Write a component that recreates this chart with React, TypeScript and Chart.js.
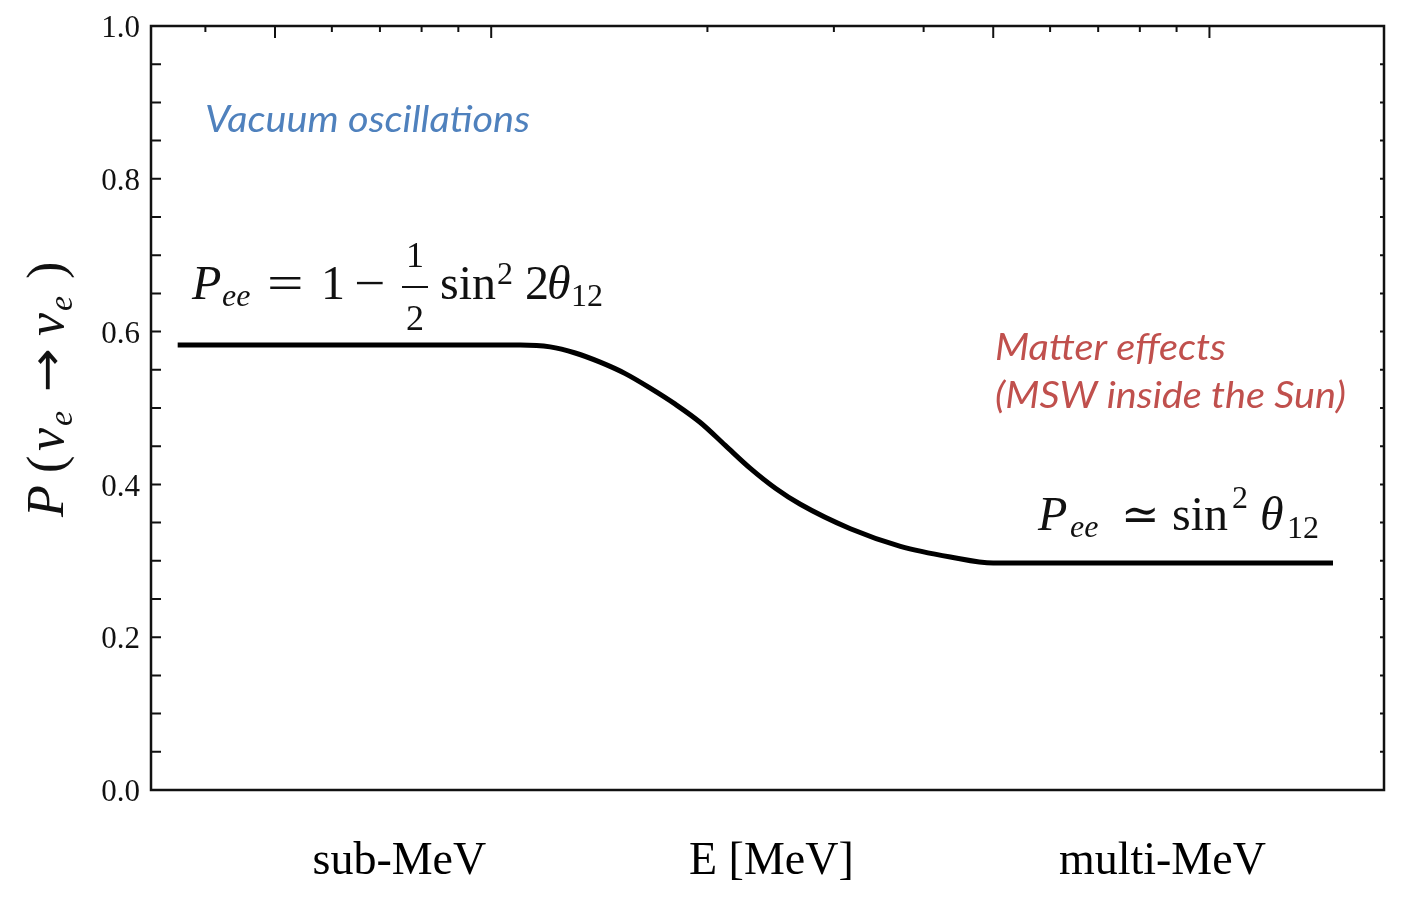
import React, { useEffect, useRef } from "react";
import { Chart, registerables } from "chart.js";
Chart.register(...registerables);

// ---- data (energy in MeV, log axis) ----
const ENERGY_MEV = [0.366, 1.098, 1.208, 1.309, 1.418, 1.537, 1.665, 1.804, 1.955, 2.118, 2.295, 2.487, 2.694, 3.163, 3.713, 4.358, 5.0, 14.86];
const P_EE = [0.5825, 0.5825, 0.58, 0.572, 0.56, 0.545, 0.526, 0.505, 0.481, 0.451, 0.421, 0.395, 0.374, 0.342, 0.319, 0.305, 0.297, 0.297];

const X_MIN = 0.336;
const X_MAX = 17.5;
const Y_MIN = 0;
const Y_MAX = 1;
const Y_LABEL_STEP = 0.2;
const Y_MINOR_STEP = 0.05;
const TOP_TICKS = [0.4, 0.5, 0.6, 0.7, 0.8, 0.9, 1, 2, 3, 4, 5, 6, 7, 8, 9, 10];
const TOP_LONG_TICKS = [0.5, 1, 5, 10];
const BOTTOM_LABELS = ["sub-MeV", "E [MeV]", "multi-MeV"];
const BOTTOM_LABEL_POS = [0.745, 2.455, 8.6];

const SERIF = '"Liberation Serif", "DejaVu Serif", serif';
const SANS = 'Lato, "Open Sans", sans-serif';
const ARROW_FONT = '"DejaVu Sans", sans-serif';

type Seg = {
  t: string;
  x: number;
  y: number;
  size: number;
  italic?: boolean;
  font?: string;
  sx?: number;
  w?: number;
  align?: CanvasTextAlign;
};

function drawSegs(ctx: CanvasRenderingContext2D, segs: Seg[], color: string) {
  for (const s of segs) {
    ctx.save();
    ctx.font = `${s.italic ? "italic " : ""}${s.size}px ${s.font || SERIF}`;
    ctx.fillStyle = color;
    ctx.textBaseline = "alphabetic";
    ctx.textAlign = s.align || "left";
    ctx.translate(s.x, s.y);
    let sx = s.sx || 1;
    if (s.w) {
      const m = ctx.measureText(s.t).width;
      if (m > 0) sx = s.w / m;
    }
    if (sx !== 1) ctx.scale(sx, 1);
    ctx.fillText(s.t, 0, 0);
    ctx.restore();
  }
}

const decorPlugin = {
  id: "decor",
  afterDraw(chart: any) {
    const ctx: CanvasRenderingContext2D = chart.ctx;
    const { left, right, top, bottom } = chart.chartArea;
    const xs = chart.scales.x;
    const ys = chart.scales.y;
    ctx.save();
    // frame
    ctx.strokeStyle = "#111";
    ctx.lineWidth = 2.5;
    ctx.strokeRect(left, top, right - left, bottom - top);
    // y ticks (inward), left long, right short
    ctx.lineWidth = 2;
    const n = Math.round((Y_MAX - Y_MIN) / Y_MINOR_STEP);
    for (let i = 1; i < n; i++) {
      const y = ys.getPixelForValue(Y_MIN + i * Y_MINOR_STEP);
      ctx.beginPath();
      ctx.moveTo(left, y);
      ctx.lineTo(left + 10, y);
      ctx.moveTo(right, y);
      ctx.lineTo(right - 4, y);
      ctx.stroke();
    }
    // top log ticks (inward)
    for (const v of TOP_TICKS) {
      const x = xs.getPixelForValue(v);
      const len = TOP_LONG_TICKS.includes(v) ? 12 : 6;
      ctx.beginPath();
      ctx.moveTo(x, top);
      ctx.lineTo(x, top + len);
      ctx.stroke();
    }
    ctx.restore();

    // annotations
    drawSegs(ctx, [{ t: "Vacuum oscillations", x: 197, y: 124, size: 36, italic: true, font: SANS, w: 325 }], "#4f81bd");
    drawSegs(
      ctx,
      [
        { t: "Matter effects", x: 987, y: 352, size: 36, italic: true, font: SANS, w: 231 },
        { t: "(MSW inside the Sun)", x: 987, y: 400, size: 36, italic: true, font: SANS, w: 351 },
      ],
      "#c0504d"
    );

    // formula 1
    drawSegs(
      ctx,
      [
        { t: "P", x: 184, y: 291, size: 48, italic: true },
        { t: "ee", x: 214, y: 298, size: 32, italic: true },
        { t: "=", x: 259, y: 291, size: 48, sx: 1.35 },
        { t: "1", x: 313, y: 291, size: 48 },
        { t: "\u2212", x: 346, y: 291, size: 48, sx: 1.15 },
        { t: "1", x: 407, y: 259, size: 36, align: "center" },
        { t: "2", x: 407, y: 322, size: 36, align: "center" },
        { t: "sin", x: 432, y: 291, size: 48 },
        { t: "2", x: 489, y: 276, size: 32 },
        { t: "2", x: 517, y: 291, size: 48 },
        { t: "\u03b8", x: 539, y: 291, size: 48, italic: true },
        { t: "12", x: 563, y: 298, size: 32 },
      ],
      "#111"
    );
    ctx.save();
    ctx.strokeStyle = "#111";
    ctx.lineWidth = 2;
    ctx.beginPath();
    ctx.moveTo(394, 279);
    ctx.lineTo(420, 279);
    ctx.stroke();
    ctx.restore();

    // formula 2
    drawSegs(
      ctx,
      [
        { t: "P", x: 1030, y: 522, size: 48, italic: true },
        { t: "ee", x: 1062, y: 529, size: 32, italic: true },
        { t: "\u2243", x: 1113, y: 522, size: 46 },
        { t: "sin", x: 1164, y: 522, size: 48 },
        { t: "2", x: 1224, y: 500, size: 32 },
        { t: "\u03b8", x: 1252, y: 522, size: 48, italic: true },
        { t: "12", x: 1279, y: 530, size: 32 },
      ],
      "#111"
    );

    // y-axis title (rotated)
    ctx.save();
    ctx.translate(55, 509);
    ctx.rotate(-Math.PI / 2);
    drawSegs(
      ctx,
      [
        { t: "P", x: 0, y: 0, size: 52, italic: true },
        { t: "(", x: 44, y: 0, size: 52 },
        { t: "\u03bd", x: 66, y: 0, size: 52, italic: true },
        { t: "e", x: 91, y: 9, size: 34, italic: true },
        { t: "\u2192", x: 125, y: -1, size: 46, font: ARROW_FONT, w: 44 },
        { t: "\u03bd", x: 181, y: 0, size: 52, italic: true },
        { t: "e", x: 206, y: 9, size: 34, italic: true },
        { t: ")", x: 238, y: 0, size: 52 },
      ],
      "#111"
    );
    ctx.restore();
  },
};

export default function App() {
  const ref = useRef<HTMLCanvasElement | null>(null);
  useEffect(() => {
    if (!ref.current) return;
    const points = ENERGY_MEV.map((e, i) => ({ x: e, y: P_EE[i] }));
    const chart = new Chart(ref.current, {
      type: "line",
      data: {
        datasets: [
          {
            data: points,
            borderColor: "#000",
            borderWidth: 5,
            borderCapStyle: "butt",
            pointRadius: 0,
            fill: false,
            cubicInterpolationMode: "monotone",
          },
        ],
      },
      options: {
        responsive: false,
        animation: false,
        layout: { padding: { top: 18, right: 16, left: 0, bottom: 0 } },
        plugins: { legend: { display: false }, tooltip: { enabled: false } },
        scales: {
          x: {
            type: "logarithmic",
            bounds: "data",
            min: X_MIN,
            max: X_MAX,
            grid: { display: false, drawTicks: false },
            border: { display: false },
            afterBuildTicks: (axis: any) => {
              axis.ticks = BOTTOM_LABEL_POS.map((v) => ({ value: v }));
            },
            afterFit: (s: any) => {
              s.height = 114;
              s.paddingLeft = 0;
              s.paddingRight = 0;
            },
            ticks: {
              autoSkip: false,
              maxRotation: 0,
              minRotation: 0,
              padding: 44,
              color: "#000",
              font: { family: SERIF, size: 46 },
              callback: (_v: any, i: number) => BOTTOM_LABELS[i],
            },
          },
          y: {
            min: Y_MIN,
            max: Y_MAX,
            grid: { display: false, drawTicks: false },
            border: { display: false },
            afterFit: (s: any) => {
              s.width = 143;
              s.paddingTop = 0;
              s.paddingBottom = 0;
            },
            ticks: {
              stepSize: Y_LABEL_STEP,
              padding: 11,
              labelOffset: 3,
              color: "#111",
              font: { family: SERIF, size: 31 },
              callback: (v: any) => Number(v).toFixed(1),
            },
          },
        },
      },
      plugins: [decorPlugin],
    } as any);
    return () => chart.destroy();
  }, []);
  return (
    <canvas ref={ref} width={1392} height={896} style={{ display: "block", width: 1392, height: 896 }} />
  );
}
